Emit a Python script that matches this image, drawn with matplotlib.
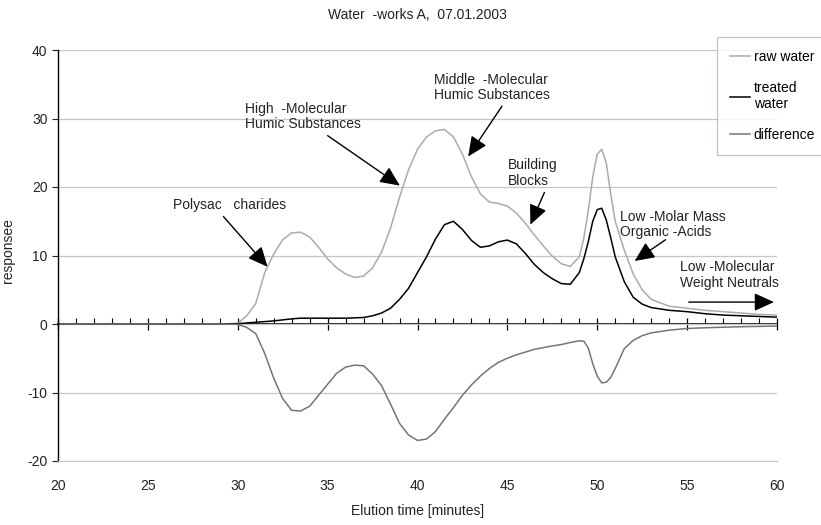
import numpy as np
import matplotlib
matplotlib.use("Agg")
import matplotlib.pyplot as plt
from matplotlib.ticker import MultipleLocator

plt.rcParams['font.family'] = ['Liberation Sans', 'DejaVu Sans']
plt.rcParams['font.size'] = 10
plt.rcParams['axes.unicode_minus'] = False

# elution time grid [min]
t = [20, 25, 29, 30, 30.5, 31, 31.5, 32, 32.5, 33, 33.5, 34, 34.5, 35, 35.5,
     36, 36.5, 37, 37.5, 38, 38.5, 39, 39.5, 40, 40.5, 41, 41.5, 42, 42.5,
     43, 43.5, 44, 44.5, 45, 45.5, 46, 46.5, 47, 47.5, 48, 48.5, 49, 49.25,
     49.5, 49.75, 50, 50.25, 50.5, 50.75, 51, 51.5, 52, 52.5, 53, 54, 55,
     56, 57, 58, 59, 60]

raw_water = [0, 0, 0, 0.1, 1.2, 3.0, 7.5, 10.2, 12.3, 13.3, 13.4, 12.7, 11.2,
             9.5, 8.2, 7.3, 6.8, 7.0, 8.2, 10.5, 14.0, 18.5, 22.5, 25.5, 27.3,
             28.2, 28.4, 27.3, 24.8, 21.5, 19.0, 17.8, 17.6, 17.2, 16.2, 14.7,
             13.0, 11.4, 9.9, 8.8, 8.4, 9.8, 12.5, 16.5, 21.5, 24.8, 25.5,
             23.5, 19.0, 15.0, 10.8, 7.3, 5.0, 3.6, 2.6, 2.3, 2.0, 1.8, 1.6,
             1.4, 1.3]

treated = [0, 0, 0, 0.05, 0.15, 0.25, 0.35, 0.45, 0.6, 0.75, 0.85, 0.85, 0.85,
           0.85, 0.85, 0.85, 0.9, 0.95, 1.2, 1.6, 2.3, 3.6, 5.2, 7.5, 9.8,
           12.4, 14.5, 15.0, 13.8, 12.2, 11.2, 11.4, 12.0, 12.25, 11.7, 10.3,
           8.7, 7.5, 6.6, 5.9, 5.8, 7.5, 9.5, 12.0, 15.0, 16.7, 16.9, 15.2,
           12.6, 9.8, 6.2, 3.9, 2.9, 2.4, 2.0, 1.8, 1.5, 1.3, 1.2, 1.1, 1.0]

difference = [0, 0, 0, -0.05, -0.5, -1.4, -4.3, -7.9, -10.9, -12.6, -12.7,
              -12.0, -10.4, -8.8, -7.2, -6.3, -6.0, -6.1, -7.3, -9.0, -11.7,
              -14.5, -16.2, -17.0, -16.8, -15.7, -13.9, -12.2, -10.4, -8.9,
              -7.6, -6.5, -5.6, -5.0, -4.5, -4.1, -3.7, -3.45, -3.2, -3.0,
              -2.7, -2.45, -2.5, -3.5, -5.8, -7.6, -8.6, -8.5, -7.8, -6.5,
              -3.6, -2.4, -1.7, -1.3, -0.9, -0.65, -0.55, -0.47, -0.4, -0.35,
              -0.3]

x_ticks = [20, 25, 30, 35, 40, 45, 50, 55, 60]
y_ticks = [-20, -10, 0, 10, 20, 30, 40]

# label text, text position, arrow start, arrow tip
notes = [
    ("Polysac   charides", (26.4, 17.3), (29.2, 15.7), (31.66, 8.35)),
    ("High  -Molecular\nHumic Substances", (30.4, 30.3), (35.0, 27.5), (39.02, 20.2)),
    ("Middle  -Molecular\nHumic Substances", (40.9, 34.5), (44.7, 31.8), (42.82, 24.45)),
    ("Building\nBlocks", (45.0, 22.0), (47.06, 19.2), (46.28, 14.5)),
    ("Low -Molar Mass\nOrganic -Acids", (51.25, 14.5), (53.8, 12.3), (52.08, 9.2)),
]

fig = plt.figure(figsize=(8.21, 5.25), dpi=100)
ax = fig.add_axes([58 / 821, 1 - 461 / 525, 719 / 821, 411 / 525])

ax.plot(t, raw_water, color='#a8abb0', lw=1.1, label='raw water')
ax.plot(t, treated, color='black', lw=1.1, label='treated\nwater')
ax.plot(t, difference, color='#72767a', lw=1.1, label='difference')

ax.set_xlim(20, 60)
ax.set_ylim(-20, 40)
ax.set_xticks(x_ticks)
ax.set_yticks(y_ticks)
ax.yaxis.grid(True, color='#c4c6ca', lw=0.9)
ax.set_axisbelow(True)
for s in ['top', 'right']:
    ax.spines[s].set_visible(False)
ax.spines['bottom'].set_color('#c4c6ca')
ax.spines['left'].set_linewidth(1.0)
ax.tick_params(axis='x', length=0, pad=13, labelsize=10, colors='#222222')
ax.tick_params(axis='y', length=4, width=0.8, labelsize=10, colors='#222222')

# zero line with tick marks
sec = ax.secondary_xaxis((0 - (-20)) / 60)
sec.set_xticks(x_ticks)
sec.xaxis.set_minor_locator(MultipleLocator(1))
sec.tick_params(which='major', direction='inout', length=9, width=0.9, labelbottom=False)
sec.tick_params(which='minor', direction='in', length=4, width=0.8)
sec.spines['bottom'].set_linewidth(1.2)

ax.set_xlabel('Elution time [minutes]', labelpad=8, color='#222222')
ax.set_ylabel('responsee', color='#222222')
ax.yaxis.set_label_coords(-0.06, 0.513)
ax.set_title('Water  -works A,  07.01.2003', fontsize=10, pad=22, color='#222222')

arrow = dict(arrowstyle='-|>,head_length=0.55,head_width=0.25', color='black',
             lw=1.0, mutation_scale=22, shrinkA=0, shrinkB=0)
for text, pos, start, tip in notes:
    ax.text(pos[0], pos[1], text, ha='left', va='center', fontsize=10,
            color='#222222', linespacing=1.15)
    ax.annotate('', xy=tip, xytext=start, arrowprops=arrow)

ax.text(54.6, 7.2, 'Low -Molecular\nWeight Neutrals', ha='left', va='center',
        fontsize=10, color='#222222', linespacing=1.15)
ax.annotate('', xy=(59.83, 3.2), xytext=(55.09, 3.2), arrowprops=arrow)

leg = fig.legend(loc='upper left', bbox_to_anchor=(717 / 821, 1 - 37 / 525),
                 frameon=True, fancybox=False, handlelength=1.4,
                 handletextpad=0.3, labelspacing=1.2, borderpad=0.95,
                 borderaxespad=0, fontsize=10)
leg.get_frame().set_edgecolor('#b0b3b8')
leg.get_frame().set_linewidth(0.9)

fig.savefig('out.png', dpi=100)
